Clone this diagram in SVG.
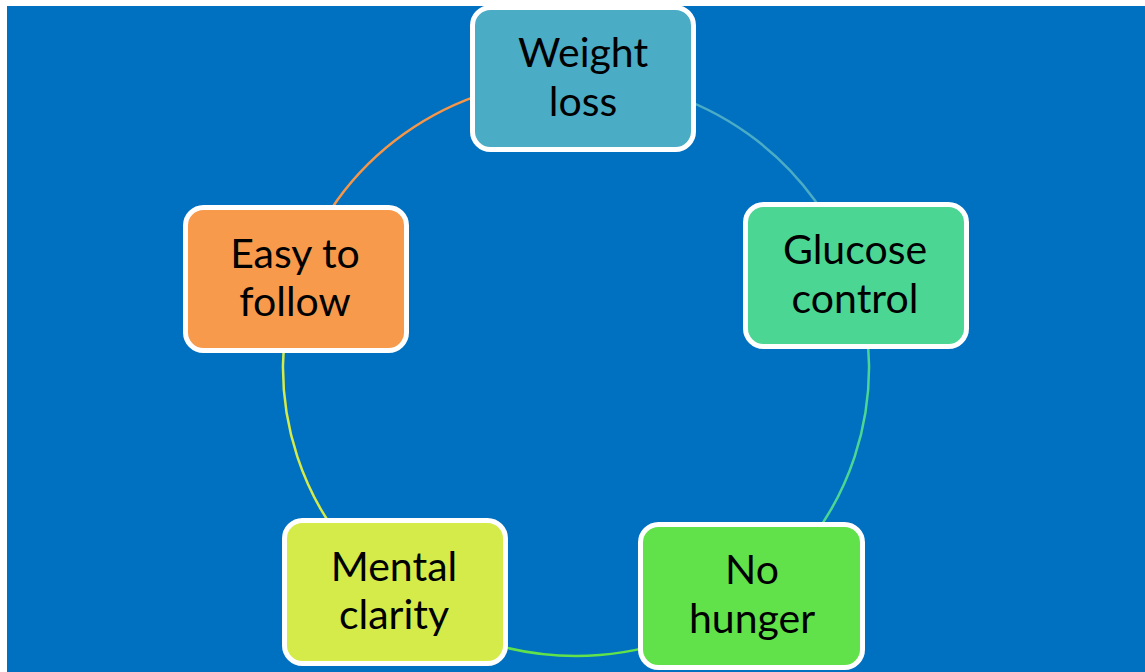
<svg xmlns="http://www.w3.org/2000/svg" width="1145" height="672" viewBox="0 0 1145 672">
  <style>
    .box { stroke: #FFFFFF; stroke-width: 5; }
    .lbl { font-family: Lato, "Open Sans", "Liberation Sans", sans-serif; font-size: 41px; fill: #000000; text-anchor: middle; }
    .arc { fill: none; stroke-width: 2.5; }
  </style>
  <rect x="0" y="0" width="1145" height="672" fill="#FFFFFF"/>
  <rect x="7" y="6" width="1138" height="666" fill="#0070C0"/>
  <g id="connectors">
    <path class="arc" stroke="#4BACC6" d="M 576 79 A 293 288.5 0 0 1 854.7 278.3"/>
    <path class="arc" stroke="#4BD693" d="M 854.7 278.3 A 293 288.5 0 0 1 748.2 600.9"/>
    <path class="arc" stroke="#62E24A" d="M 748.2 600.9 A 293 288.5 0 0 1 403.8 600.9"/>
    <path class="arc" stroke="#D4EB4A" d="M 403.8 600.9 A 293 288.5 0 0 1 297.3 278.3"/>
    <path class="arc" stroke="#F79646" d="M 297.3 278.3 A 293 288.5 0 0 1 576 79"/>
  </g>
  <g id="weight-loss">
    <rect class="box" x="472.5" y="7.5" width="221" height="142" rx="18" fill="#4BACC6"/>
    <text class="lbl" x="583" y="67">Weight</text>
    <text class="lbl" x="583" y="116">loss</text>
  </g>
  <g id="glucose-control">
    <rect class="box" x="745.5" y="204.5" width="221" height="142" rx="18" fill="#4BD693"/>
    <text class="lbl" x="855" y="264">Glucose</text>
    <text class="lbl" x="855" y="313">control</text>
  </g>
  <g id="no-hunger">
    <rect class="box" x="640.5" y="524.5" width="222" height="143" rx="18" fill="#62E24A"/>
    <text class="lbl" x="752" y="584">No</text>
    <text class="lbl" x="752" y="633">hunger</text>
  </g>
  <g id="mental-clarity">
    <rect class="box" x="284.5" y="520.5" width="221" height="143" rx="18" fill="#D4EB4A"/>
    <text class="lbl" x="394" y="581">Mental</text>
    <text class="lbl" x="394" y="629">clarity</text>
  </g>
  <g id="easy-to-follow">
    <rect class="box" x="185.5" y="207.5" width="221" height="143" rx="18" fill="#F79A4B"/>
    <text class="lbl" x="295" y="268">Easy to</text>
    <text class="lbl" x="295" y="316">follow</text>
  </g>
</svg>
